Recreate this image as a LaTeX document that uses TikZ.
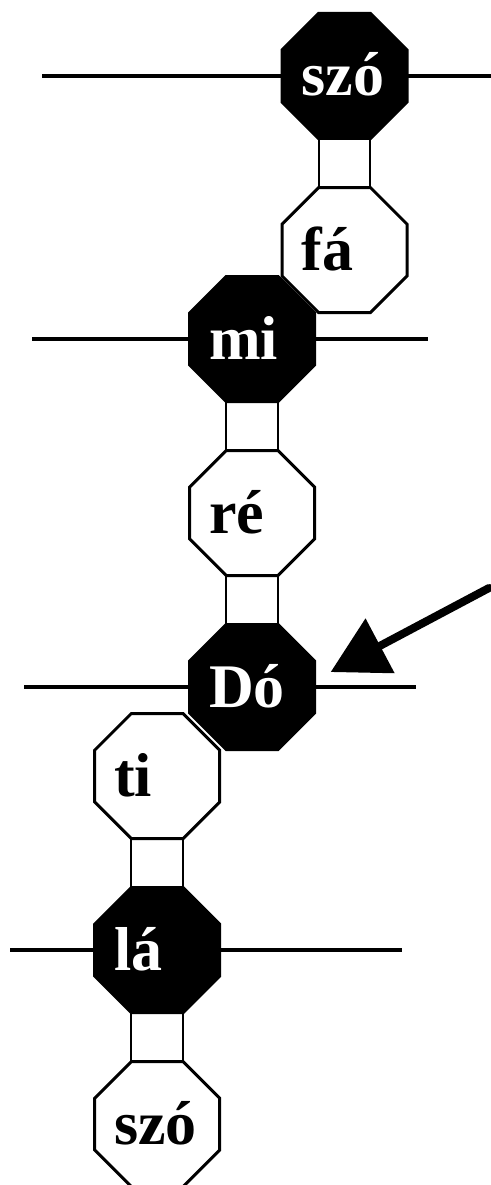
\documentclass[tikz,border=0pt]{standalone}
\usepackage{fontspec}
\setmainfont{Liberation Serif}
\usetikzlibrary{arrows.meta, positioning, calc, shapes.geometric}
\newcommand{\notefont}{\fontsize{62pt}{62pt}\selectfont\bfseries}

\begin{document}
\begin{tikzpicture}[
    x=1pt, y=1pt,
    note/.style={
        regular polygon, regular polygon sides=8, minimum size=135.3pt,
        inner sep=0pt, outer sep=0pt, line width=3pt, draw=black,
        font=\notefont, text width=86pt, align=left,
        text height=40pt, text depth=0pt
    },
    dark/.style={note, fill=black, text=white},
    light/.style={note, fill=white, text=black},
    joint/.style={rectangle, draw=black, line width=2pt, inner sep=0pt,
                  outer sep=0pt, minimum width=51.8pt, minimum height=49pt},
    staff/.style={line width=3.8pt, black},
    pointer/.style={-{Triangle[length=56pt, width=60pt]}, line width=8pt,
                    line cap=round, black}
]
\useasboundingbox (0,0) rectangle (490,-1185);

% Notes
\node[dark] (szo1) at (344.5,-76) {szó};
\node[joint, below=0pt of szo1] (j1) {};
\node[light, below=0pt of j1] (fa) {fá};

\node[dark, below left=0.6pt and 4pt of fa] (mi) {mi};
\node[joint, below=0pt of mi] (j2) {};
\node[light, below=0pt of j2] (re) {ré};
\node[joint, below=0pt of re] (j3) {};
\node[dark, below=0pt of j3] (do) {Dó};

\node[light, below left=0.6pt and 6.5pt of do] (ti) {ti};
\node[joint, below=0pt of ti] (j4) {};
\node[dark, below=0pt of j4] (la) {lá};
\node[joint, below=0pt of la] (j5) {};
\node[light, below=0pt of j5] (szo2) {szó};

% Staff lines
\foreach \n/\l/\r in {szo1/240/85, mi/157.3/113.4,
                      do/165.6/101.4, la/84.7/182} {
    \draw[staff] (\n.west) -- ++(-\l,0) (\n.east) -- ++(\r,0);
}

% Pointer
\coordinate (hand) at (489,-588);
\draw[pointer] (hand) -- ($(do.east)+(16,15)$);

\end{tikzpicture}
\end{document}
